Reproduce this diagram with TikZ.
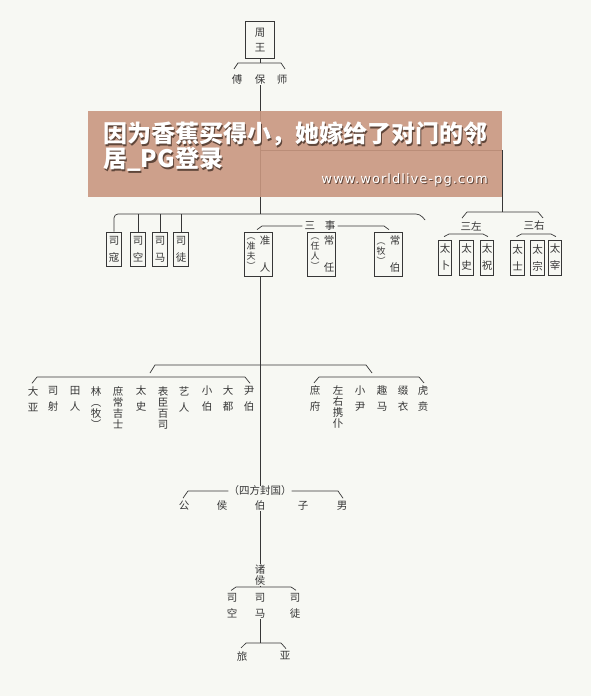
\documentclass[tikz,border=0pt]{standalone}
\usepackage{fontspec}
\newfontfamily\cjk{Noto Sans CJK SC}
\newfontfamily\urlfont[LetterSpace=8]{DejaVu Sans}
\definecolor{inkgray}{RGB}{55,55,55}
\definecolor{paperbg}{RGB}{247,248,243}
\definecolor{bannerbrown}{RGB}{201,151,128}
\definecolor{shadowbrown}{RGB}{95,70,58}
\usetikzlibrary{positioning,calc}

\tikzset{
  orgline/.style={draw=inkgray, line width=0.7pt},
  hanzi/.style={font=\cjk\fontsize{10.5}{12}\selectfont, text=inkgray, inner sep=0pt, align=center},
  tight/.style={hanzi, font=\cjk\fontsize{10.5}{11}\selectfont},
  note/.style={hanzi, font=\cjk\fontsize{9}{10}\selectfont},
  officebox/.style={hanzi, draw=inkgray, line width=0.7pt, minimum width=15pt, minimum height=34pt},
  smallbox/.style={officebox, minimum width=13.5pt, minimum height=35pt},
  widebox/.style={draw=inkgray, line width=0.7pt, minimum width=28pt, minimum height=44pt, inner sep=0pt},
  bannertext/.style={font=\cjk\bfseries\fontsize{24}{25}\selectfont, anchor=north west, align=left, inner sep=0pt},
  urltext/.style={font=\urlfont\fontsize{13}{13}\selectfont, anchor=east, inner sep=0pt}
}
\newcommand{\orgbrace}[3]{%
  \draw[orgline] ($(#1.north)+(-1,-3)$) -- ($(#1.north |- 0,#3)+(4,0)$)
    -- ($(#2.north |- 0,#3)+(-4,0)$) -- ($(#2.north)+(1,-3)$);}

\begin{document}
\begin{tikzpicture}[x=1pt, y=-1pt]
  \fill[paperbg] (0,0) rectangle (591,696);
  \useasboundingbox (0,0) rectangle (591,696);

  \node[officebox, minimum width=29pt, minimum height=37pt] (zhouwang) at (260,40) {周\\[3pt]王};
  \node[hanzi] (fu) at (237,80) {傅};
  \node[hanzi] (bao) at (260,80) {保};
  \node[hanzi] (shi) at (282,80) {师};
  \draw[orgline] (zhouwang.south) -- (zhouwang.south |- 0,63);
  \draw[orgline] ($(fu.north)+(-3,-6)$) -- ($(fu.north |- 0,63)+(1,0)$)
    -- ($(shi.north |- 0,63)+(-1,0)$) -- ($(shi.north)+(3,-6)$);
  \draw[orgline] (bao.south) -- (bao.south |- 0,214);

  \node[officebox] (sikou) at (114,249) {司\\[5pt]寇};
  \node[officebox] (sikong) at (138,249) {司\\[5pt]空};
  \node[officebox] (sima) at (160,249) {司\\[5pt]马};
  \node[officebox] (situ) at (181,249) {司\\[5pt]徒};
  \coordinate (leftbarend) at (425,220);
  \draw[orgline, rounded corners=4pt] (sikou.north) |- ($(leftbarend)+(-5,-6)$) -- (leftbarend);
  \draw[orgline] (sikong.north) -- (sikong.north |- 0,214);
  \draw[orgline] (sima.north) -- (sima.north |- 0,214);
  \draw[orgline] (situ.north) -- (situ.north |- 0,214);

  \node[widebox] (zhunren) at (258,254) {};
  \node[hanzi] (zhun) at (265,241) {准};
  \node[hanzi] (ren) at (265,268) {人};
  \node[note] (zhunfu) at (251,254) {︵\\准\\夫\\︶};
  \node[widebox] (changren) at (321.5,254) {};
  \node[hanzi] (chang) at (329,241) {常};
  \node[hanzi] (ren2) at (329,268) {任};
  \node[note] (renren) at (315,254) {︵\\任\\人\\︶};
  \node[widebox] (changbo) at (388,254) {};
  \node[hanzi] (chang2) at (395,241) {常};
  \node[hanzi] (bo2) at (395,268) {伯};
  \node[note] (mu) at (381,254) {︵\\牧\\︶};
  \node[hanzi] (sanshi) at (320,226) {三\hspace{10pt}事};
  \draw[orgline] ($(zhunren.north)+(-1,-2)$) -- ($(zhunren.north |- sanshi.west)+(4,0)$) -- ([xshift=-2pt]sanshi.west);
  \draw[orgline] ([xshift=2pt]sanshi.east) -- ($(changbo.north |- sanshi.east)+(-4,0)$) -- ($(changbo.north)+(1,-2)$);

  \node[hanzi] (sanzuo) at (471,226) {三左};
  \node[hanzi] (sanyou) at (534,226) {三右};
  \coordinate (sanbar) at (502,212);
  \draw[orgline] (bao.south |- 0,150) -| (sanbar);
  \draw[orgline] ($(sanzuo.north)+(-9,-3)$) -- ($(sanzuo.north |- sanbar)+(-4,0)$)
    -- ($(sanyou.north |- sanbar)+(4,0)$) -- ($(sanyou.north)+(9,-3)$);
  \node[smallbox] (zuobu) at (445,257.5) {太\\[5pt]卜};
  \node[smallbox] (zuoshi) at (466.5,257.5) {太\\[5pt]史};
  \node[smallbox] (zuozhu) at (487,257.5) {太\\[5pt]祝};
  \node[smallbox] (youshi) at (517.5,257.5) {太\\[5pt]士};
  \node[smallbox] (youzong) at (537.5,257.5) {太\\[5pt]宗};
  \node[smallbox] (youzai) at (555,257.5) {太\\[5pt]宰};
  \orgbrace{zuobu}{zuozhu}{234}
  \orgbrace{youshi}{youzai}{234}

  \coordinate (leftjoin) at (150,373);
  \coordinate (rightjoin) at (372,373);
  \draw[orgline] (leftjoin) -- ++(5,-8) -- ($(rightjoin)+(-6,-8)$) -- (rightjoin);
  \node[hanzi] (daya) at (33,399) {大\\[4pt]亚};
  \node[hanzi] (sishe) at (53,399) {司\\[4pt]射};
  \node[hanzi] (tianren) at (75,399) {田\\[4pt]人};
  \node[tight] (linmu) at (96,407.5) {林\\︵\\牧\\︶};
  \node[tight] (shuchang) at (118,407.5) {庶\\常\\吉\\士};
  \node[hanzi] (taishi) at (141,399) {太\\[4pt]史};
  \node[tight] (biaochen) at (163,407.5) {表\\臣\\百\\司};
  \node[hanzi] (yiren) at (184,399) {艺\\[4pt]人};
  \node[hanzi] (xiaobo) at (207,399) {小\\[4pt]伯};
  \node[hanzi] (dadu) at (228,399) {大\\[4pt]都};
  \node[hanzi] (yinbo) at (249,399) {尹\\[4pt]伯};
  \orgbrace{daya}{yinbo}{377}
  \node[hanzi] (shufu) at (315,399) {庶\\[4pt]府};
  \node[tight] (zuoyou) at (338,407.5) {左\\右\\携\\仆};
  \node[hanzi] (xiaoyin) at (360,399) {小\\[4pt]尹};
  \node[hanzi] (quma) at (382,399) {趣\\[4pt]马};
  \node[hanzi] (zhuiyi) at (403,399) {缀\\[4pt]衣};
  \node[hanzi] (huben) at (423,399) {虎\\[4pt]贲};
  \orgbrace{shufu}{huben}{377}

  \node[hanzi] (siguo) at (260,491) {（四方封国）};
  \node[hanzi] (gong) at (184,506) {公};
  \node[hanzi] (hou) at (222,506) {侯};
  \node[hanzi] (bo) at (260,506) {伯};
  \node[hanzi] (zi) at (303,506) {子};
  \node[hanzi] (nan) at (342,506) {男};
  \draw[orgline] (zhunren.south -| bao.south) -- (siguo.north);
  \draw[orgline] ($(gong.north)+(-1,-3)$) -- ($(gong.north |- siguo.west)+(4,0)$) -- (siguo.west);
  \draw[orgline] (siguo.east) -- ($(nan.north |- siguo.east)+(-4,0)$) -- ($(nan.north)+(1,-3)$);

  \node[tight] (zhuhou) at (260,575) {诸\\侯};
  \draw[orgline] (bo.south) -- (zhuhou.north);
  \draw[orgline] (zhuhou.south) -- (zhuhou.south |- 0,587);
  \node[hanzi] (sikong2) at (232,606) {司\\[4pt]空};
  \node[hanzi] (sima2) at (260,606) {司\\[4pt]马};
  \node[hanzi] (situ2) at (295,606) {司\\[4pt]徒};
  \orgbrace{sikong2}{situ2}{587}
  \node[hanzi] (lv) at (242,656) {旅};
  \node[hanzi] (ya) at (285,656) {亚};
  \draw[orgline] (sima2.south) -- (sima2.south |- 0,643);
  \orgbrace{lv}{ya}{643}

  \fill[bannerbrown, fill opacity=0.9] (88,111) rectangle (502,197);
  \node[bannertext, text=shadowbrown] (captionshadow) at (104.5,123.5) {因为香蕉买得小，她嫁给了对门的邻\\居\_PG登录};
  \node[bannertext, text=white] (caption) at (103,122) {因为香蕉买得小，她嫁给了对门的邻\\居\_PG登录};
  \node[urltext, text=shadowbrown] (urlshadow) at (489,181) {www.worldlive-pg.com};
  \node[urltext, text=white] (weburl) at (488,180) {www.worldlive-pg.com};
\end{tikzpicture}
\end{document}
